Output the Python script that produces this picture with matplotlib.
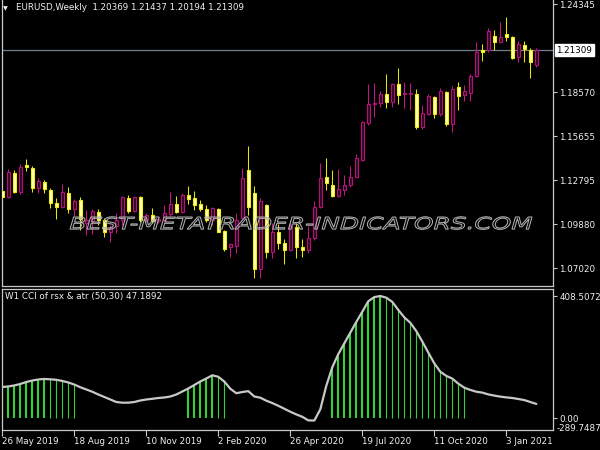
import numpy as np
import pandas as pd
import matplotlib
matplotlib.use('Agg')
import matplotlib.pyplot as plt
from matplotlib.transforms import blended_transform_factory, Affine2D
from matplotlib.textpath import TextPath
from matplotlib.patches import PathPatch
from matplotlib.font_manager import FontProperties

symbol = 'EURUSD'
timeframe = 'Weekly'
first_week = '2019-05-26'

# weekly OHLC, one value per bar
opens = [1.1209, 1.1166, 1.1328, 1.1203, 1.1376, 1.1360, 1.1225, 1.1267, 1.1214, 1.1127,
         1.1104, 1.1196, 1.1087, 1.1148, 1.0996, 1.1010, 1.1072, 1.1017, 1.0940, 1.0975,
         1.1017, 1.1160, 1.1078, 1.1166, 1.1017, 1.1050, 1.1013, 1.1020, 1.1055, 1.1124,
         1.1070, 1.1178, 1.1160, 1.1120, 1.1089, 1.1020, 1.1090, 1.0945, 1.0842, 1.0845,
         1.1030, 1.1345, 1.1192, 1.0694, 1.1116, 1.0809, 1.0940, 1.0866, 1.0822, 1.0970,
         1.0840, 1.0817, 1.0897, 1.1104, 1.1297, 1.1250, 1.1175, 1.1216, 1.1245, 1.1301,
         1.1411, 1.1655, 1.1776, 1.1787, 1.1842, 1.1790, 1.1908, 1.1842, 1.1843, 1.1842,
         1.1630, 1.1715, 1.1822, 1.1711, 1.1860, 1.1647, 1.1888, 1.1837, 1.1849, 1.1964,
         1.2133, 1.2130, 1.2223, 1.2186, 1.2236, 1.2216, 1.2085, 1.2166, 1.2133, 1.20369]
highs = [1.1214, 1.1350, 1.1345, 1.1383, 1.1415, 1.1372, 1.1291, 1.1280, 1.1229, 1.1160,
         1.1251, 1.1236, 1.1153, 1.1166, 1.1083, 1.1087, 1.1087, 1.1028, 1.0984, 1.1063,
         1.1175, 1.1181, 1.1175, 1.1175, 1.1061, 1.1094, 1.1035, 1.1116, 1.1203, 1.1175,
         1.1196, 1.1240, 1.1209, 1.1148, 1.1116, 1.1104, 1.1096, 1.0951, 1.0868, 1.1061,
         1.1356, 1.1503, 1.1240, 1.1160, 1.1122, 1.0996, 1.0991, 1.0890, 1.1017, 1.1000,
         1.0890, 1.0975, 1.1144, 1.1389, 1.1422, 1.1345, 1.1350, 1.1312, 1.1372, 1.1450,
         1.1667, 1.1910, 1.1918, 1.1864, 1.1973, 1.1918, 1.2012, 1.1925, 1.1914, 1.1875,
         1.1772, 1.1842, 1.1831, 1.1881, 1.1864, 1.1896, 1.1925, 1.1903, 1.1973, 1.2183,
         1.2170, 1.2275, 1.2264, 1.2315, 1.2349, 1.2227, 1.2194, 1.2192, 1.2144, 1.21437]
lows = [1.1116, 1.1160, 1.1192, 1.1186, 1.1341, 1.1203, 1.1192, 1.1196, 1.1098, 1.1022,
        1.1098, 1.1061, 1.1043, 1.0951, 1.0919, 1.0925, 1.0984, 1.0904, 1.0875, 1.0932,
        1.0984, 1.1065, 1.1072, 1.1004, 1.1006, 1.0999, 1.0996, 1.1006, 1.1043, 1.1061,
        1.1065, 1.1122, 1.1083, 1.1078, 1.1006, 1.0984, 1.0936, 1.0816, 1.0772, 1.0799,
        1.1025, 1.1050, 1.0635, 1.0635, 1.0766, 1.0766, 1.0825, 1.0727, 1.0812, 1.0767,
        1.0775, 1.0800, 1.0886, 1.1098, 1.1214, 1.1166, 1.1166, 1.1181, 1.1236, 1.1297,
        1.1404, 1.1639, 1.1695, 1.1761, 1.1754, 1.1761, 1.1776, 1.1754, 1.1739, 1.1612,
        1.1612, 1.1706, 1.1685, 1.1700, 1.1636, 1.1597, 1.1739, 1.1798, 1.1798, 1.1958,
        1.2061, 1.2118, 1.2133, 1.2181, 1.2192, 1.2074, 1.2056, 1.2056, 1.1951, 1.20194]
closes = [1.1166, 1.1330, 1.1203, 1.1367, 1.1367, 1.1225, 1.1273, 1.1219, 1.1127, 1.1104,
          1.1203, 1.1089, 1.1144, 1.1022, 1.1020, 1.1074, 1.1017, 1.0940, 1.0969, 1.1017,
          1.1170, 1.1078, 1.1166, 1.1017, 1.1050, 1.1013, 1.1024, 1.1061, 1.1122, 1.1068,
          1.1181, 1.1153, 1.1116, 1.1087, 1.1017, 1.1094, 1.0940, 1.0827, 1.0858, 1.1020,
          1.1291, 1.1100, 1.0694, 1.1144, 1.0809, 1.0940, 1.0868, 1.0822, 1.0975, 1.0840,
          1.0817, 1.0897, 1.1104, 1.1291, 1.1258, 1.1175, 1.1219, 1.1247, 1.1297, 1.1426,
          1.1658, 1.1776, 1.1787, 1.1844, 1.1793, 1.1910, 1.1837, 1.1849, 1.1849, 1.1629,
          1.1717, 1.1833, 1.1713, 1.1864, 1.1645, 1.1875, 1.1833, 1.1864, 1.1964, 1.2122,
          1.2118, 1.2259, 1.2183, 1.2216, 1.2220, 1.2082, 1.2172, 1.2137, 1.2052, 1.21309]

# indicator line (CCI of rsx & atr)
cci = [104, 105.5, 109, 114, 120.5, 125.5, 129, 130.7, 129.6, 128,
       124, 119, 112, 103, 95.5, 88, 78.7, 70.4, 62, 53.6,
       51.3, 51.3, 53.6, 58.6, 62, 64.3, 67, 68.7, 72, 78.7,
       88.8, 98.8, 110.6, 122.3, 132.3, 143, 138, 122, 98, 83,
       87, 90, 72, 68, 58, 50, 41, 31, 21, 12,
       4, -8, -8.5, 29, 108, 170, 214, 250, 286, 321.6,
       356, 391, 405, 408.5072, 403, 388.6, 361.8, 337, 319, 291,
       256, 219, 183, 155, 141, 132, 115, 101.5, 94, 88,
       85, 79, 75, 71.6, 69, 67, 63.7, 60, 53.6, 47.1892]
# bars where the indicator shows its green histogram (first, last index)
signal_spans = [(0, 12), (31, 37), (55, 77)]

price_ticks = [1.24345, 1.18570, 1.15655, 1.12795, 1.09880, 1.07020]
cci_max = 408.5072
cci_min = -289.7487
indicator_name = 'W1 CCI of rsx & atr (50,30)'

BG = 'black'
FRAME = '#c8c8c8'
TEXT = '#f0f0f0'
BULL_EDGE = '#b8107a'
BULL_FACE = '#2e0a20'
BULL_WICK = '#c8148a'
BEAR_EDGE = '#f0f000'
BEAR_FACE = '#ffffb0'
BEAR_WICK = '#e8e800'
FS = 6.3


def draw_candles(ax, x):
    """Draw MT4 style candles: hollow magenta bulls, filled yellow bears."""
    o, h, l, c = (np.array(v) for v in (opens, highs, lows, closes))
    up = c >= o
    ax.vlines(x[up], l[up], h[up], color=BULL_WICK, lw=0.75, zorder=2)
    ax.vlines(x[~up], l[~up], h[~up], color=BEAR_WICK, lw=0.75, zorder=2)
    bottom = np.minimum(o, c)
    height = np.maximum(np.abs(c - o), 0.0003)
    ax.bar(x[up], height[up], bottom=bottom[up], width=0.42,
           facecolor=BULL_FACE, edgecolor=BULL_EDGE, linewidth=0.8, zorder=3)
    ax.bar(x[~up], height[~up], bottom=bottom[~up], width=0.42,
           facecolor=BEAR_FACE, edgecolor=BEAR_EDGE, linewidth=0.8, zorder=3)


def draw_watermark(ax):
    """Outlined, stretched italic site watermark across the price pane."""
    fp = FontProperties(family='DejaVu Sans', style='oblique', weight='normal')
    tp = TextPath((0, 0), 'BEST-METATRADER-INDICATORS.COM', size=1, prop=fp)
    ext = tp.get_extents()
    x0, x1, y0, y1 = 0.124, 0.962, 0.198, 0.242
    tr = (Affine2D().translate(-ext.x0, -ext.y0)
          .scale((x1 - x0) / ext.width, (y1 - y0) / ext.height)
          .translate(x0, y0) + ax.transAxes)
    ax.add_patch(PathPatch(tp, transform=tr, facecolor='none',
                           edgecolor='#b0b0b0', lw=0.75, zorder=5))


def style_frame(ax, top=True):
    for side, sp in ax.spines.items():
        sp.set_color(FRAME)
        sp.set_linewidth(0.9)
    ax.spines['top'].set_visible(top)
    ax.set_facecolor(BG)


def main():
    plt.rcParams['font.family'] = ['DejaVu Sans']
    n = len(closes)
    x = np.arange(n)
    weeks = pd.date_range(first_week, periods=n, freq='7D')

    fig = plt.figure(figsize=(6, 4.5), dpi=100, facecolor=BG)
    left, width = 1.7 / 600, 551.3 / 600
    ax = fig.add_axes([left, 1 - 286 / 450, width, 286 / 450])
    ax2 = fig.add_axes([left, 1 - 429.5 / 450, width, 140.5 / 450])

    # price pane
    style_frame(ax, top=False)
    draw_candles(ax, x)
    ax.axhline(closes[-1], color='#6d7d8d', lw=0.9, zorder=1)
    draw_watermark(ax)
    ax.set_xlim(-0.1, 91.78)
    ax.set_ylim(1.05839, 1.24608)
    ax.set_xticks([])
    ax.yaxis.tick_right()
    ax.set_yticks(price_ticks)
    ax.set_yticklabels([f'{p:.5f}' for p in price_ticks])
    ax.tick_params(axis='y', colors=FRAME, labelcolor=TEXT, labelsize=FS,
                   length=3, width=0.8, pad=1.5)
    bt = blended_transform_factory(ax.transAxes, ax.transData)
    ax.text(1.006, closes[-1], f'{closes[-1]:.5f}', transform=bt, ha='left',
            va='center', fontsize=FS, color='black', clip_on=False,
            bbox=dict(facecolor='white', edgecolor='white', pad=1.2))

    fig.text(3 / 600, 1 - 8.5 / 450, '▼', fontsize=4.5, color=TEXT, va='center')
    fig.text(16 / 600, 1 - 8 / 450,
             f'{symbol},{timeframe}  {opens[-1]:.5f} {highs[-1]:.5f} '
             f'{lows[-1]:.5f} {closes[-1]:.5f}',
             fontsize=FS, color=TEXT, va='center')

    # indicator pane
    style_frame(ax2, top=True)
    vals = np.array(cci)
    for s, e in signal_spans:
        idx = np.arange(s, e + 1)
        rising = np.array([i == 0 or vals[i] >= vals[i - 1] for i in idx])
        ax2.vlines(idx[rising], 0, vals[idx[rising]], color='#34d034', lw=1.5, zorder=2)
        ax2.vlines(idx[~rising], 0, vals[idx[~rising]], color='#34d034', lw=0.8, zorder=2)
    ax2.plot(x, vals, color='#c8c8c8', lw=1.6, zorder=3, solid_capstyle='round')
    ax2.set_xlim(-0.1, 91.78)
    ax2.set_ylim(-38.5, 432)
    ax2.yaxis.tick_right()
    ax2.set_yticks([cci_max, 0])
    ax2.set_yticklabels([f'{cci_max:.4f}', '0.00'])
    ax2.tick_params(axis='y', colors=FRAME, labelcolor=TEXT, labelsize=FS,
                    length=3, width=0.8, pad=1.5)
    bt2 = blended_transform_factory(ax2.transAxes, ax2.transData)
    ax2.text(1.006, -34, f'{cci_min:.4f}', transform=bt2, ha='left', va='center',
             fontsize=FS, color=TEXT, clip_on=False)
    fig.text(5 / 600, 1 - 297 / 450, f'{indicator_name} {cci[-1]:.4f}',
             fontsize=FS, color=TEXT, va='center')

    tick_idx = x[::12]
    ax2.set_xticks(tick_idx)
    ax2.set_xticklabels([f'{weeks[i].day} {weeks[i].strftime("%b %Y")}' for i in tick_idx])
    ax2.tick_params(axis='x', colors=FRAME, labelcolor=TEXT, labelsize=FS,
                    length=4, width=0.8, pad=1.5)
    for lbl in ax2.get_xticklabels():
        lbl.set_ha('left')

    fig.savefig('out.png', dpi=100, facecolor=BG)
    plt.close(fig)


if __name__ == '__main__':
    main()
